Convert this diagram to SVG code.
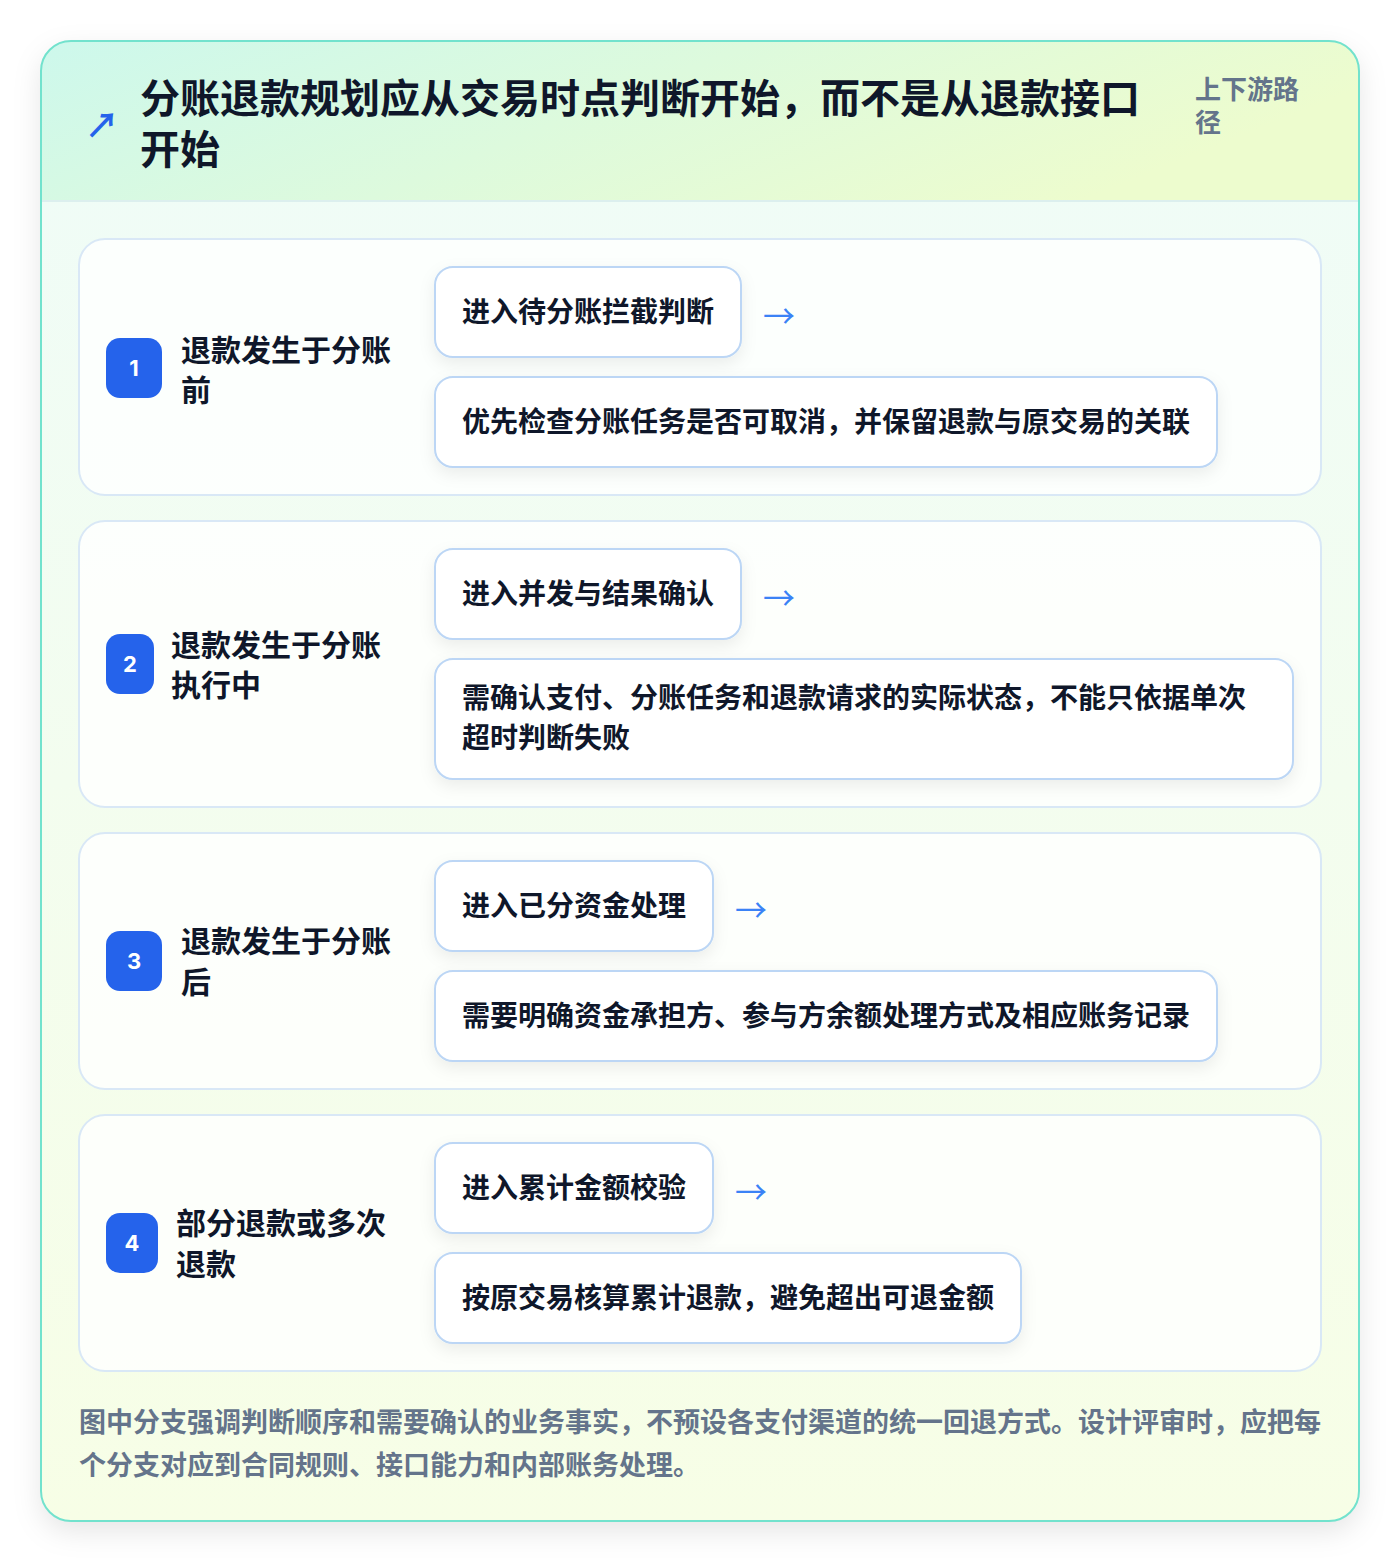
<svg xmlns="http://www.w3.org/2000/svg" width="1400" height="1562" viewBox="0 0 1400 1562">
<style>
text{font-family:"Noto Sans CJK SC","Noto Sans",sans-serif;font-weight:700}
.title{font-size:40px;fill:#0f172a}
.tag{font-size:26px;fill:#64748b}
.lbl{font-size:30px;fill:#0f172a}
.bt{font-size:28px;fill:#0f172a}
.num{font-size:22px;fill:#ffffff;font-family:"Inter","Noto Sans",sans-serif}
.arr{font-size:32px;fill:#3b82f6;font-weight:400}
.foot{font-size:27px;fill:#64748b}
.row{fill:#ffffff;fill-opacity:0.8;stroke:#d9e8f6;stroke-width:2}
.box{fill:#ffffff;stroke:#bcd6f5;stroke-width:2}
.badge{fill:#2563eb}
</style>
<defs>
<linearGradient id="hdr" x1="0" y1="0" x2="1" y2="0.3">
<stop offset="0" stop-color="#cdf8ec"/>
<stop offset="1" stop-color="#edfcce"/>
</linearGradient>
<linearGradient id="body" x1="0" y1="0" x2="0" y2="1">
<stop offset="0" stop-color="#effcf8"/>
<stop offset="1" stop-color="#f7fee6"/>
</linearGradient>
<filter id="cardsh" x="-10%" y="-10%" width="120%" height="120%">
<feDropShadow dx="0" dy="10" stdDeviation="14" flood-color="#000000" flood-opacity="0.10"/>
</filter>
<filter id="boxsh" x="-20%" y="-30%" width="140%" height="170%">
<feDropShadow dx="0" dy="6" stdDeviation="8" flood-color="#0f172a" flood-opacity="0.07"/>
</filter>
<clipPath id="cardclip"><rect x="41" y="41" width="1318" height="1480" rx="30"/></clipPath>
</defs>
<rect width="1400" height="1562" fill="#ffffff"/>
<g id="card">
<rect x="41" y="41" width="1318" height="1480" rx="30" fill="url(#body)" filter="url(#cardsh)"/>
<g clip-path="url(#cardclip)">
<rect x="41" y="41" width="1318" height="160" fill="url(#hdr)"/>
<line x1="41" y1="201" x2="1359" y2="201" stroke="#dcefee" stroke-width="2"/>
</g>
<rect x="41" y="41" width="1318" height="1480" rx="30" fill="none" stroke="#72e2cd" stroke-width="2"/>
</g>
<g id="header">
<text x="85" y="138" style="font-size:34px;fill:#2563eb;font-weight:700">↗</text>
<text class="title" x="140" y="113">分账退款规划应从交易时点判断开始，而不是从退款接口</text>
<text class="title" x="140" y="164">开始</text>
<text class="tag" x="1195" y="99">上下游路</text>
<text class="tag" x="1195" y="132">径</text>
</g>
<g id="row1">
<rect class="row" x="79" y="239" width="1242" height="256" rx="26"/>
<rect class="badge" x="106" y="338" width="56" height="60" rx="14"/>
<text class="num" x="134" y="376" text-anchor="middle">1</text>
<text class="lbl" x="181" y="361">退款发生于分账</text>
<text class="lbl" x="181" y="401">前</text>
<g id="row1-step"><rect class="box" x="435" y="267" width="306" height="90" rx="18" filter="url(#boxsh)"/>
<text class="bt" x="462" y="322">进入待分账拦截判断</text></g>
<g id="row1-detail"><rect class="box" x="435" y="377" width="782" height="90" rx="18" filter="url(#boxsh)"/>
<text class="bt" x="462" y="432">优先检查分账任务是否可取消，并保留退款与原交易的关联</text></g>
</g>
<g id="row2">
<rect class="row" x="79" y="521" width="1242" height="286" rx="26"/>
<rect class="badge" x="106" y="634" width="48" height="60" rx="14"/>
<text class="num" x="130" y="672" text-anchor="middle">2</text>
<text class="lbl" x="171" y="656">退款发生于分账</text>
<text class="lbl" x="171" y="696">执行中</text>
<g id="row2-step"><rect class="box" x="435" y="549" width="306" height="90" rx="18" filter="url(#boxsh)"/>
<text class="bt" x="462" y="604">进入并发与结果确认</text></g>
<g id="row2-detail"><rect class="box" x="435" y="659" width="858" height="120" rx="18" filter="url(#boxsh)"/>
<text class="bt" x="462" y="708">需确认支付、分账任务和退款请求的实际状态，不能只依据单次</text>
<text class="bt" x="462" y="748">超时判断失败</text></g>
</g>
<g id="row3">
<rect class="row" x="79" y="833" width="1242" height="256" rx="26"/>
<rect class="badge" x="106" y="931" width="56" height="60" rx="14"/>
<text class="num" x="134" y="969" text-anchor="middle">3</text>
<text class="lbl" x="181" y="952">退款发生于分账</text>
<text class="lbl" x="181" y="993">后</text>
<g id="row3-step"><rect class="box" x="435" y="861" width="278" height="90" rx="18" filter="url(#boxsh)"/>
<text class="bt" x="462" y="916">进入已分资金处理</text></g>
<g id="row3-detail"><rect class="box" x="435" y="971" width="782" height="90" rx="18" filter="url(#boxsh)"/>
<text class="bt" x="462" y="1026">需要明确资金承担方、参与方余额处理方式及相应账务记录</text></g>
</g>
<g id="row4">
<rect class="row" x="79" y="1115" width="1242" height="256" rx="26"/>
<rect class="badge" x="106" y="1213" width="52" height="60" rx="14"/>
<text class="num" x="132" y="1251" text-anchor="middle">4</text>
<text class="lbl" x="176" y="1234">部分退款或多次</text>
<text class="lbl" x="176" y="1275">退款</text>
<g id="row4-step"><rect class="box" x="435" y="1143" width="278" height="90" rx="18" filter="url(#boxsh)"/>
<text class="bt" x="462" y="1198">进入累计金额校验</text></g>
<g id="row4-detail"><rect class="box" x="435" y="1253" width="586" height="90" rx="18" filter="url(#boxsh)"/>
<text class="bt" x="462" y="1308">按原交易核算累计退款，避免超出可退金额</text></g>
</g>
<g id="connectors">
<text class="arr" x="763" y="328">→</text>
<text class="arr" x="763" y="610">→</text>
<text class="arr" x="735" y="922">→</text>
<text class="arr" x="735" y="1204">→</text>
</g>
<g id="footer">
<text class="foot" x="79" y="1432">图中分支强调判断顺序和需要确认的业务事实，不预设各支付渠道的统一回退方式。设计评审时，应把每</text>
<text class="foot" x="79" y="1475">个分支对应到合同规则、接口能力和内部账务处理。</text>
</g>
</svg>
